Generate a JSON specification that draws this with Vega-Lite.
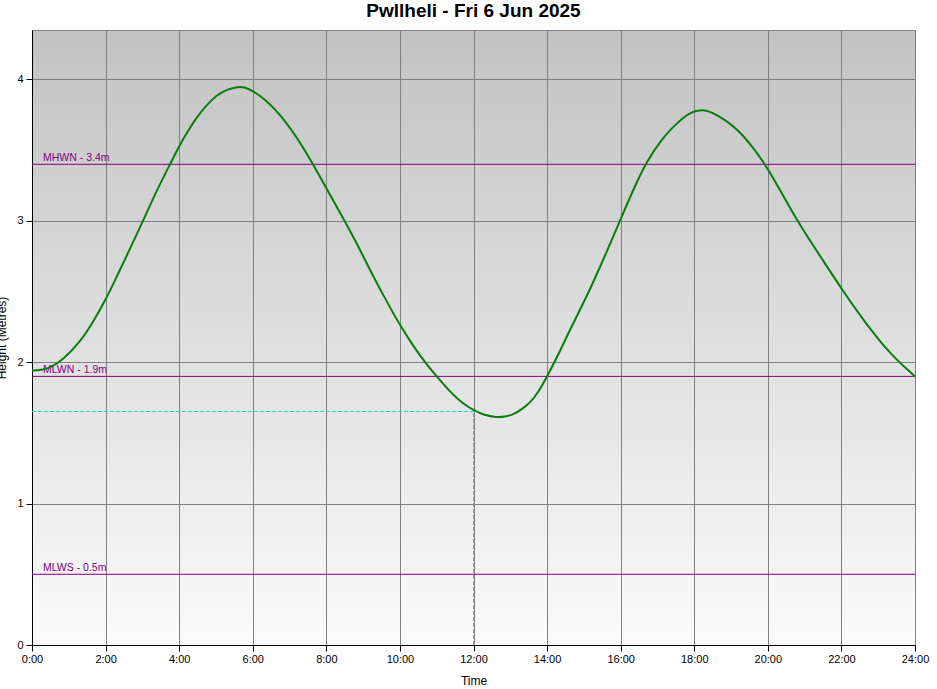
{
  "$schema": "https://vega.github.io/schema/vega-lite/v6.json",
  "width": 883,
  "height": 615,
  "autosize": "none",
  "padding": {"left": 32, "top": 30, "right": 22, "bottom": 44},
  "background": "white",
  "title": {"text": "Pwllheli - Fri 6 Jun 2025", "font": "Liberation Sans", "fontSize": 19, "fontWeight": "bold", "color": "black", "offset": 9, "anchor": "middle"},
  "view": {"stroke": "#808080", "strokeWidth": 1, "fill": {"gradient": "linear", "x1": 0, "y1": 0, "x2": 0, "y2": 1, "stops": [{"offset": 0, "color": "#c2c2c2"}, {"offset": 1, "color": "#fbfbfb"}]}},
  "config": {
    "axis": {
      "grid": true, "gridColor": "#808080", "gridOpacity": 1, "gridWidth": 1,
      "domainColor": "black", "domainWidth": 1, "tickColor": "black", "tickWidth": 1, "tickSize": 6,
      "labelFont": "Liberation Sans", "labelFontSize": 11, "labelColor": "black",
      "titleFont": "Liberation Sans", "titleFontSize": 12, "titleFontWeight": "normal", "titleColor": "black"
    }
  },
  "datasets": {
    "tide": [
      {"t": 0.0, "h": 1.94}, {"t": 0.25, "h": 1.945}, {"t": 0.5, "h": 1.96}, {"t": 0.85, "h": 2.02},
      {"t": 1.3, "h": 2.14}, {"t": 1.65, "h": 2.28}, {"t": 2.0, "h": 2.44}, {"t": 2.33, "h": 2.62},
      {"t": 2.66, "h": 2.8}, {"t": 3.02, "h": 3.0}, {"t": 3.38, "h": 3.21}, {"t": 3.75, "h": 3.4},
      {"t": 4.0, "h": 3.53}, {"t": 4.25, "h": 3.64}, {"t": 4.47, "h": 3.73}, {"t": 4.75, "h": 3.82}, {"t": 5.02, "h": 3.89}, {"t": 5.3, "h": 3.93},
      {"t": 5.6, "h": 3.95}, {"t": 5.79, "h": 3.945}, {"t": 6.0, "h": 3.92}, {"t": 6.33, "h": 3.86},
      {"t": 6.6, "h": 3.79}, {"t": 6.87, "h": 3.71}, {"t": 7.25, "h": 3.57}, {"t": 7.6, "h": 3.42}, {"t": 8.0, "h": 3.23},
      {"t": 8.5, "h": 3.0}, {"t": 8.87, "h": 2.82}, {"t": 9.23, "h": 2.63}, {"t": 9.6, "h": 2.45},
      {"t": 9.98, "h": 2.27}, {"t": 10.35, "h": 2.12}, {"t": 10.68, "h": 2.0}, {"t": 11.0, "h": 1.9},
      {"t": 11.4, "h": 1.78}, {"t": 11.7, "h": 1.71}, {"t": 12.0, "h": 1.66}, {"t": 12.3, "h": 1.625},
      {"t": 12.62, "h": 1.61}, {"t": 12.85, "h": 1.614}, {"t": 13.08, "h": 1.63}, {"t": 13.3, "h": 1.665},
      {"t": 13.53, "h": 1.71}, {"t": 13.77, "h": 1.79}, {"t": 14.0, "h": 1.9},
      {"t": 14.3, "h": 2.05}, {"t": 14.62, "h": 2.23}, {"t": 15.07, "h": 2.46}, {"t": 15.52, "h": 2.72},
      {"t": 15.98, "h": 3.0}, {"t": 16.34, "h": 3.22}, {"t": 16.7, "h": 3.42}, {"t": 17.15, "h": 3.59},
      {"t": 17.45, "h": 3.67}, {"t": 17.7, "h": 3.73}, {"t": 17.9, "h": 3.765}, {"t": 18.1, "h": 3.78}, {"t": 18.24, "h": 3.785}, {"t": 18.4, "h": 3.775}, {"t": 18.6, "h": 3.75},
      {"t": 18.92, "h": 3.7}, {"t": 19.24, "h": 3.63}, {"t": 19.6, "h": 3.52}, {"t": 19.98, "h": 3.38}, {"t": 20.5, "h": 3.14},
      {"t": 20.87, "h": 2.97}, {"t": 21.5, "h": 2.72}, {"t": 22.0, "h": 2.52}, {"t": 22.59, "h": 2.3},
      {"t": 23.31, "h": 2.06}, {"t": 24.0, "h": 1.9}
    ],
    "refs": [
      {"label": "MHWN - 3.4m", "t": 0, "h": 3.4},
      {"label": "MLWN - 1.9m", "t": 0, "h": 1.9},
      {"label": "MLWS - 0.5m", "t": 0, "h": 0.5}
    ],
    "cursor": [{"t0": 0, "t": 12.0, "h0": 0, "h": 1.6516}]
  },
  "layer": [
    {
      "data": {"name": "refs"},
      "mark": {"type": "rule", "color": "#800080", "strokeWidth": 1},
      "encoding": {
        "y": {"field": "h", "type": "quantitative", "scale": {"domain": [0, 4.35], "nice": false, "zero": false},
          "axis": {"values": [0, 1, 2, 3, 4], "format": "d", "title": "Height (Metres)", "titleX": -27, "titleY": 307.5, "titleAngle": -90, "titleBaseline": "alphabetic", "titleAlign": "center", "labelPadding": 3}}
      }
    },
    {
      "data": {"name": "refs"},
      "mark": {"type": "text", "color": "#800080", "font": "Liberation Sans", "fontSize": 10.5, "align": "left", "baseline": "alphabetic", "dx": 11, "dy": -3},
      "encoding": {
        "x": {"field": "t", "type": "quantitative", "scale": {"domain": [0, 24], "nice": false, "zero": false},
          "axis": {"values": [0, 2, 4, 6, 8, 10, 12, 14, 16, 18, 20, 22, 24], "labelExpr": "datum.value + ':00'", "title": "Time", "labelFlush": false, "labelOverlap": false, "labelPadding": 2, "titleY": 39, "titleBaseline": "alphabetic"}},
        "y": {"field": "h", "type": "quantitative"},
        "text": {"field": "label", "type": "nominal"}
      }
    },
    {
      "data": {"name": "cursor"},
      "mark": {"type": "rule", "stroke": "#1ed8d8", "opacity": 1, "strokeOpacity": 1, "strokeWidth": 1, "strokeDash": [4, 2]},
      "encoding": {
        "x": {"field": "t0", "type": "quantitative"},
        "x2": {"field": "t"},
        "y": {"field": "h", "type": "quantitative"}
      }
    },
    {
      "data": {"name": "cursor"},
      "mark": {"type": "rule", "stroke": "#1ed8d8", "opacity": 1, "strokeOpacity": 1, "strokeWidth": 1, "strokeDash": [4, 2]},
      "encoding": {
        "x": {"field": "t", "type": "quantitative"},
        "y": {"field": "h0", "type": "quantitative"},
        "y2": {"field": "h"}
      }
    },
    {
      "data": {"name": "tide"},
      "mark": {"type": "line", "color": "#0a7d0a", "strokeWidth": 2, "interpolate": "basis"},
      "encoding": {
        "x": {"field": "t", "type": "quantitative"},
        "y": {"field": "h", "type": "quantitative"}
      }
    }
  ]
}
